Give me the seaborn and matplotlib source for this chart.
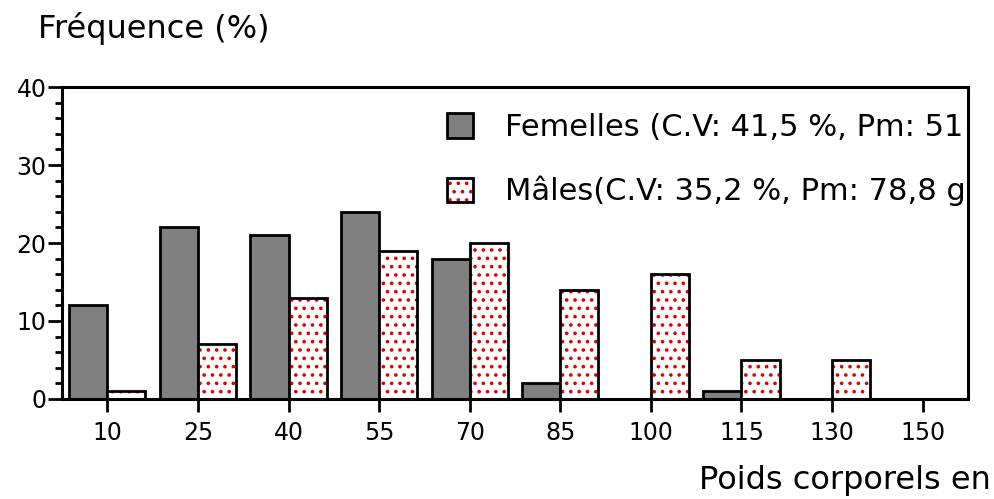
import matplotlib
matplotlib.use('Agg')
import matplotlib.pyplot as plt
import matplotlib.colors as mcolors
from matplotlib.patches import Patch
from matplotlib.ticker import MultipleLocator
import seaborn as sns
import pandas as pd

categories = ['10', '25', '40', '55', '70', '85', '100', '115', '130', '150']
femelles = [12, 22, 21, 24, 18, 2, 0, 1, 0, 0]
males = [1, 7, 13, 19, 20, 14, 16, 5, 5, 0]
label_f = 'Femelles (C.V: 41,5 %, Pm: 51'
label_m = 'Mâles(C.V: 35,2 %, Pm: 78,8 g'
ylabel = 'Fréquence (%)'
xlabel = 'Poids corporels en'

sns.set_theme(style='ticks')
plt.rcParams['font.family'] = ['DejaVu Sans']
plt.rcParams['hatch.linewidth'] = 1.4
plt.rcParams['text.color'] = 'black'
plt.rcParams['xtick.color'] = 'black'
plt.rcParams['ytick.color'] = 'black'
plt.rcParams['xtick.labelcolor'] = 'black'
plt.rcParams['ytick.labelcolor'] = 'black'

df = pd.DataFrame({
    'Poids': categories * 2,
    'Freq': femelles + males,
    'Sexe': ['F'] * len(categories) + ['M'] * len(categories),
})

RED = mcolors.to_rgba('#e00000')

fig = plt.figure(figsize=(9.95, 4.99), dpi=100)
ax = fig.add_axes([62 / 995, 1 - 399 / 499, (968 - 62) / 995, (399 - 87) / 499])
sns.barplot(data=df, x='Poids', y='Freq', hue='Sexe', order=categories,
            hue_order=['F', 'M'], palette={'F': '#808080', 'M': 'white'},
            edgecolor='black', linewidth=2.0, width=0.84, saturation=1,
            legend=False, errorbar=None, ax=ax)

for p in ax.containers[1]:
    p.set_hatch('..')
    p._hatch_color = RED

ax.set_xlim(-0.5, len(categories) - 0.5)
ax.set_ylim(0, 40)
ax.yaxis.set_major_locator(MultipleLocator(10))
ax.yaxis.set_minor_locator(MultipleLocator(2))
ax.tick_params(axis='y', which='major', direction='out', length=10, width=2, pad=1, labelsize=17)
ax.tick_params(axis='y', which='minor', direction='out', length=5, width=2)
ax.tick_params(axis='x', which='major', direction='out', length=9, width=2, pad=7, labelsize=17)
for s in ax.spines.values():
    s.set_linewidth(2.2)
    s.set_color('black')
ax.set_xlabel('')
ax.set_ylabel('')

fig.text(38 / 995, 1 - 38 / 499, ylabel, fontsize=23, ha='left', va='baseline', color='black')
fig.text(991 / 995, 1 - 489 / 499, xlabel, fontsize=23, ha='right', va='baseline', color='black')

h_f = Patch(facecolor='#808080', edgecolor='black', linewidth=2)
h_m = Patch(facecolor='white', edgecolor='black', linewidth=2, hatch='..')
h_m._hatch_color = RED
leg = ax.legend([h_f, h_m], [label_f, label_m], loc='upper left',
                bbox_to_anchor=(447 / 995, 1 - 113 / 499), bbox_transform=fig.transFigure,
                frameon=False, fontsize=22, handlelength=0.85, handleheight=0.85,
                handletextpad=1.05, labelspacing=1.11, borderpad=0, borderaxespad=0,
                labelcolor='black')

fig.savefig('out.png', dpi=100)
